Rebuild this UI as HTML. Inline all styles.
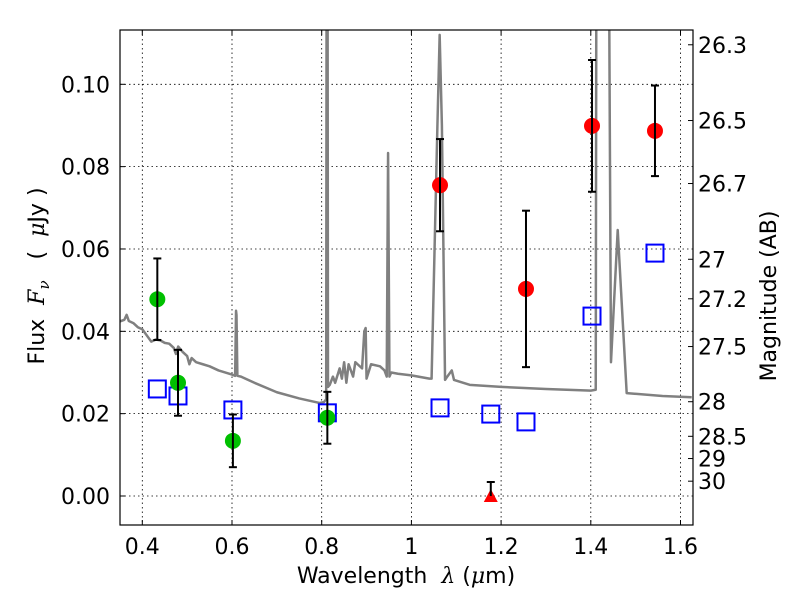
<!DOCTYPE html>
<html><head><meta charset="utf-8"><style>
body{margin:0;background:#fff}
svg{display:block;font-family:"DejaVu Sans","Liberation Sans",sans-serif}
text{white-space:pre}
</style></head><body>
<svg id="chart" width="800" height="600" viewBox="0 0 800 600">
<g id="grid"></g>
<g id="spec"></g>
<g id="marks"></g>
<rect x="120" y="30" width="573" height="495" fill="none" stroke="#000" stroke-width="1.2"/>
<g id="axes"></g>
<text x="406" y="583" font-size="22" text-anchor="middle">Wavelength  <tspan font-style="italic" font-family="DejaVu Serif,serif">λ</tspan> (<tspan font-style="italic" font-family="DejaVu Serif,serif">μ</tspan>m)</text>
<text transform="translate(44,276) rotate(-90)" font-size="22" text-anchor="middle">Flux  <tspan font-style="italic" font-family="DejaVu Serif,serif">F</tspan><tspan font-style="italic" font-family="DejaVu Serif,serif" font-size="15" dy="5">ν</tspan><tspan dy="-5">   (  </tspan><tspan font-style="italic" font-family="DejaVu Serif,serif">μ</tspan>Jy )</text>
<text transform="translate(776,296) rotate(-90)" font-size="22" text-anchor="middle">Magnitude (AB)</text>
</svg>
<script>
const xTicks=[0.4,0.6,0.8,1,1.2,1.4,1.6];
const xTickLabels=["0.4","0.6","0.8","1","1.2","1.4","1.6"];
const yTicks=[0,0.02,0.04,0.06,0.08,0.10];
const yTickLabels=["0.00","0.02","0.04","0.06","0.08","0.10"];
const magLabels=["26.3","26.5","26.7","27","27.2","27.5","28","28.5","29","30"];
const magFlux=[0.1096,0.0912,0.0759,0.0575,0.0479,0.0363,0.0229,0.0145,0.0091,0.0036];
const greenX=[0.4335,0.4796,0.602,0.8126];
const greenY=[0.0478,0.0275,0.0134,0.0190];
const greenErr=[0.0099,0.0080,0.0064,0.0063];
const redX=[1.0638,1.2555,1.4027,1.5431];
const redY=[0.0755,0.0503,0.0899,0.0887];
const redErr=[0.0112,0.0190,0.0160,0.0110];
const triX=[1.177];
const triY=[0.0];
const triErr=[0.0034];
const sqX=[0.4335,0.4796,0.602,0.8126,1.0638,1.177,1.2555,1.4027,1.5431];
const sqY=[0.0260,0.0243,0.0209,0.0202,0.0214,0.0199,0.0180,0.0437,0.0590];
const specX=[0.35,0.36,0.365,0.37,0.38,0.39,0.4,0.41,0.42,0.43,0.44,0.45,0.46,0.47,0.475,0.48,0.49,0.5,0.505,0.51,0.52,0.535,0.55,0.57,0.6,0.607,0.609,0.610,0.612,0.62,0.65,0.7,0.75,0.795,0.805,0.810,0.812,0.814,0.818,0.825,0.83,0.84,0.845,0.85,0.855,0.86,0.87,0.875,0.88,0.89,0.895,0.898,0.9,0.91,0.93,0.94,0.945,0.948,0.951,0.955,0.97,1.0,1.04,1.045,1.058,1.063,1.068,1.075,1.08,1.09,1.095,1.13,1.2,1.3,1.4,1.411,1.414,1.435,1.445,1.46,1.48,1.56,1.625];
const specY=[0.0424,0.0428,0.0440,0.0425,0.0420,0.0410,0.0405,0.0390,0.0375,0.0380,0.0378,0.0372,0.0370,0.0360,0.0345,0.0363,0.0350,0.0340,0.0320,0.0335,0.0325,0.0320,0.0315,0.0305,0.0295,0.0292,0.0450,0.0440,0.0292,0.0290,0.0275,0.0252,0.0237,0.0226,0.0228,0.0235,0.25,0.0265,0.0270,0.0290,0.0275,0.0310,0.0285,0.0325,0.0275,0.0320,0.0290,0.0325,0.0320,0.0310,0.0400,0.0408,0.0285,0.0320,0.0315,0.0305,0.0290,0.0833,0.0290,0.0300,0.0297,0.0293,0.0285,0.0285,0.09,0.1120,0.09,0.0282,0.0290,0.0305,0.0282,0.0270,0.0265,0.0260,0.0256,0.0258,0.25,0.25,0.0325,0.0646,0.0250,0.0243,0.0240];
const X=v=>142.3+(v-0.4)*448.5;
const Y=v=>496-v*4117;
const NS="http://www.w3.org/2000/svg";
function mk(p,t,a){const e=document.createElementNS(NS,t);for(const k in a)e.setAttribute(k,a[k]);p.appendChild(e);return e;}
const grid=document.getElementById('grid'),axes=document.getElementById('axes'),marks=document.getElementById('marks');
xTicks.forEach((t,i)=>{const x=X(t);
 const g=mk(grid,'line',{x1:x,x2:x,y1:30,y2:525,stroke:'#000','stroke-width':0.8,'stroke-dasharray':'1.5,3'});
 
 mk(axes,'line',{x1:x,x2:x,y1:525,y2:520,stroke:'#000'});mk(axes,'line',{x1:x,x2:x,y1:30,y2:35,stroke:'#000'});
 const l=mk(axes,'text',{x:x,y:554,'font-size':22,'text-anchor':'middle'});l.textContent=xTickLabels[i];
 });
yTicks.forEach((t,i)=>{const y=Y(t);
 const g=mk(grid,'line',{x1:120,x2:693,y1:y,y2:y,stroke:'#000','stroke-width':0.8,'stroke-dasharray':'1.5,3'});
 
 mk(axes,'line',{x1:120,x2:125,y1:y,y2:y,stroke:'#000'});
 const l=mk(axes,'text',{x:110,y:y+8,'font-size':22,'text-anchor':'end'});l.textContent=yTickLabels[i];
 });
magFlux.forEach((f,i)=>{const y=Y(f);
 mk(axes,'line',{x1:693,x2:688,y1:y,y2:y,stroke:'#000'});
 const l=mk(axes,'text',{x:698,y:y+8,'font-size':22});l.textContent=magLabels[i];
 });
const cp=mk(document.getElementById('chart'),'clipPath',{id:'clip'});mk(cp,'rect',{x:120,y:30,width:573,height:495});
const sp=mk(document.getElementById('spec'),'polyline',{points:specX.map((v,i)=>X(v)+','+Y(specY[i])).join(' '),fill:'none',stroke:'#808080','stroke-width':2.5,'clip-path':'url(#clip)','stroke-linejoin':'round'});

sqX.forEach((v,i)=>{const s=mk(marks,'rect',{x:X(v)-8.5,y:Y(sqY[i])-8.5,width:17,height:17,fill:'none',stroke:'#0000ff','stroke-width':2});
 });
function err(x,y,e){const g=mk(marks,'g',{stroke:'#000','stroke-width':2});
 
 mk(g,'line',{x1:X(x),x2:X(x),y1:Y(y+e),y2:Y(y-e)});
 mk(g,'line',{x1:X(x)-4,x2:X(x)+4,y1:Y(y+e),y2:Y(y+e)});
 mk(g,'line',{x1:X(x)-4,x2:X(x)+4,y1:Y(y-e),y2:Y(y-e)});}
greenX.forEach((v,i)=>{const c=mk(marks,'circle',{cx:X(v),cy:Y(greenY[i]),r:8,fill:'#00c000'});
 err(v,greenY[i],greenErr[i]);});
redX.forEach((v,i)=>{const c=mk(marks,'circle',{cx:X(v),cy:Y(redY[i]),r:8,fill:'#ff0000'});
 err(v,redY[i],redErr[i]);});
triX.forEach((v,i)=>{const x=X(v),y=Y(triY[i]);
 const t=mk(marks,'polygon',{points:`${x-7},${y+6} ${x+7},${y+6} ${x},${y-7}`,fill:'#ff0000'});
 
 const g=mk(marks,'g',{stroke:'#000','stroke-width':2});
 
 mk(g,'line',{x1:x,x2:x,y1:Y(triErr[i]),y2:y});mk(g,'line',{x1:x-4,x2:x+4,y1:Y(triErr[i]),y2:Y(triErr[i])});});
</script>
</body></html>
